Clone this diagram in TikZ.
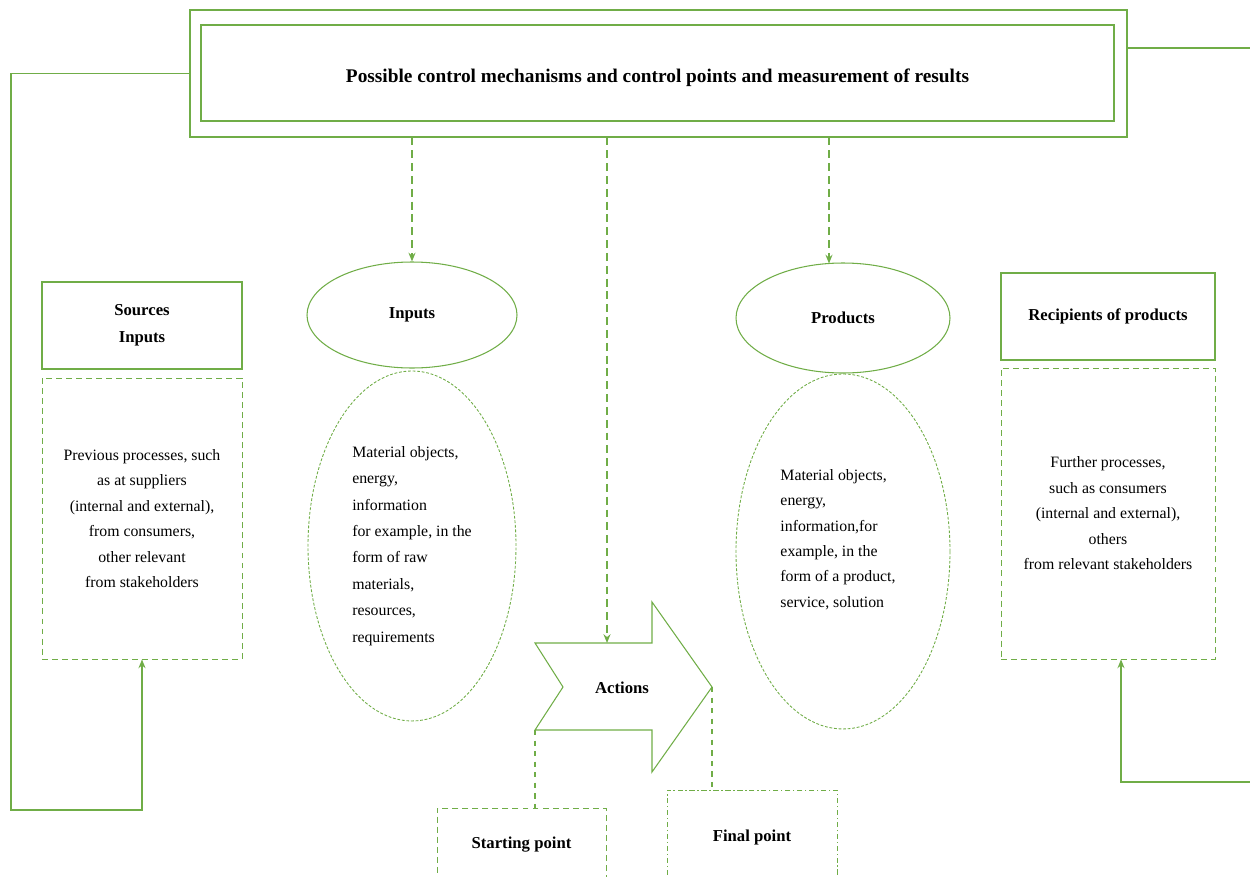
\documentclass[tikz,border=0pt]{standalone}
\usepackage{fontspec}
\setmainfont{Liberation Serif}
\usetikzlibrary{arrows.meta,positioning,shapes.geometric}
\definecolor{procgreen}{HTML}{70AD47}

\begin{document}
\begin{tikzpicture}[>={Stealth[length=5pt,width=4pt]},
  every node/.style={font=\fontsize{9}{14.5}\selectfont, inner sep=0pt},
  head/.style={draw=procgreen, line width=0.6pt, align=center, font=\fontsize{9.5}{15.5}\selectfont\bfseries},
  body/.style={draw=procgreen, line width=0.5pt, dash pattern=on 3.4pt off 2.3pt, align=center},
  oval/.style={ellipse, draw=procgreen, line width=0.6pt, font=\fontsize{9.5}{13.5}\selectfont\bfseries},
  ovalbody/.style={ellipse, draw=procgreen, line width=0.5pt, dash pattern=on 1.6pt off 1pt, align=left,
    font=\fontsize{9}{15}\selectfont},
  link/.style={draw=procgreen, line width=0.8pt},
  drop/.style={draw=procgreen, line width=0.8pt, dash pattern=on 4.5pt off 2.8pt, ->}]

\useasboundingbox (0,0) rectangle (25,-17.52);

% control mechanisms on top
\node[draw=procgreen, line width=0.6pt, minimum width=18.74cm, minimum height=2.54cm] (ctrl) at (13.17,-1.47) {};
\node[draw=procgreen, line width=0.6pt, minimum width=18.26cm, minimum height=1.92cm,
  label={[yshift=-0.1cm, font=\fontsize{11}{13}\selectfont\bfseries]center:Possible control mechanisms and control points and measurement of results}]
  (ctrlin) at (13.15,-1.46) {};

% sources
\node[head, minimum width=4cm, minimum height=1.74cm] (srchead) at (2.84,-6.51) {Sources\\Inputs};
\node[body, minimum width=4cm, minimum height=5.62cm, below=0.16cm of srchead] (srcbody)
  {Previous processes, such\\as at suppliers\\(internal and external),\\from consumers,\\other relevant\\from stakeholders};

% inputs
\node[oval, minimum width=4.2cm, minimum height=2.12cm] (inp) at (8.24,-6.3) {Inputs};
\node[ovalbody, minimum width=4.16cm, minimum height=7cm, below=0.04cm of inp] (inpbody)
  {Material objects,\\energy,\\information\\for example, in the\\form of raw\\materials,\\resources,\\requirements};

% products
\node[oval, minimum width=4.28cm, minimum height=2.2cm] (prod) at (16.86,-6.36) {Products};
\node[ovalbody, minimum width=4.28cm, minimum height=7.1cm, below=0cm of prod] (prodbody) {};
\node[align=left, font=\fontsize{9}{14.5}\selectfont] (prodtext) at ([xshift=-0.1cm, yshift=0.24cm]prodbody.center)
  {Material objects,\\energy,\\information,for\\example, in the\\form of a product,\\service, solution};

% recipients
\node[head, minimum width=4.28cm, minimum height=1.74cm] (rechead) at (22.16,-6.33) {Recipients of products};
\node[body, minimum width=4.28cm, minimum height=5.82cm, below=0.14cm of rechead] (recbody)
  {Further processes,\\such as consumers\\(internal and external),\\others\\from relevant stakeholders};

% actions arrow
\coordinate (aA) at (10.7,-12.86);
\coordinate (aB) at (11.26,-13.74);
\coordinate (aC) at (10.7,-14.6);
\coordinate (aD) at (13.04,-14.6);
\coordinate (aE) at (13.04,-15.44);
\coordinate (aF) at (14.24,-13.74);
\coordinate (aG) at (13.04,-12.04);
\coordinate (aH) at (13.04,-12.86);
\draw[draw=procgreen, line width=0.6pt] (aA) -- (aB) -- (aC) -- (aD) -- (aE) -- (aF) -- (aG) -- (aH) -- cycle;
\node[font=\fontsize{9.5}{12}\selectfont\bfseries] (act) at (12.44,-13.76) {Actions};

% start and end
\node[body, minimum width=3.38cm, minimum height=1.48cm, font=\fontsize{9.5}{12}\selectfont\bfseries] (start) at (10.43,-16.9) {Starting point};
\node[body, dash pattern=on 3pt off 1.5pt on 0.8pt off 1.5pt, minimum width=3.4cm, minimum height=1.88cm,
  font=\fontsize{9.5}{12}\selectfont\bfseries] (final) at (15.04,-16.74) {Final point};
\draw[link, line width=0.6pt, dash pattern=on 3pt off 3pt] (aC) -- (start.north -| aC);
\draw[link, line width=0.6pt, dash pattern=on 3pt off 3pt] (aF) -- (final.north -| aF);

% control drops
\coordinate (actin) at (12.14,-12.86);
\coordinate (prodin) at (16.58,-5.27);
\draw[drop] (ctrl.south -| inp) -- (inp.north);
\draw[drop] (ctrl.south -| actin) -- (actin);
\draw[drop] (ctrl.south -| prodin) -- (prodin);

% feedback lines
\coordinate (lbend) at (0.22,-16.2);
\coordinate (rtop) at (25,-0.96);
\coordinate (rbot) at (25,-15.64);
\draw[link, ->] (ctrl.west) -| (lbend) -| (srcbody.south);
\draw[link] (ctrl.east |- rtop) -- (rtop);
\draw[link, ->] (rbot) -| ([xshift=0.26cm]recbody.south);
\end{tikzpicture}
\end{document}
